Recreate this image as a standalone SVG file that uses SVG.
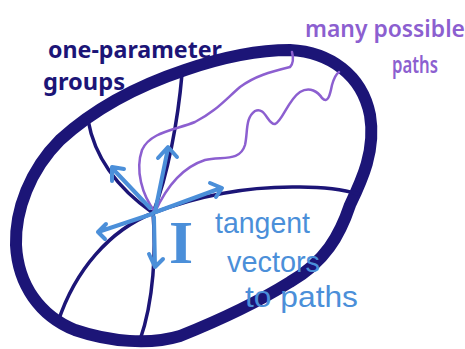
<svg xmlns="http://www.w3.org/2000/svg" width="465" height="349" viewBox="0 0 465 349">
<style>
.navy{fill:none;stroke:#1c1577;stroke-linecap:round;stroke-linejoin:round}
.purple{fill:none;stroke:#8c5fd0;stroke-width:2.5;stroke-linecap:round;stroke-linejoin:round}
.blue{fill:none;stroke:#4b8fd9;stroke-width:4;stroke-linecap:round;stroke-linejoin:round}
.t{font-family:"Noto Sans","DejaVu Sans",sans-serif}
.tn{fill:#1c1577;font-weight:700;font-size:24px}
.tp{fill:#8c5fd0;font-weight:600;font-size:23px}
.tb{fill:#4b8fd9;font-family:"Liberation Sans",Arial,sans-serif;font-size:30px}
</style>
<rect width="465" height="349" fill="#ffffff"/>
<g id="manifold">
<path class="navy" stroke-width="12" d="M 290 50 C 330 52, 362 75, 370 115 C 376 150, 362 180, 350 205 C 340 235, 325 262, 290 282 C 258 302, 215 322, 180 336 C 150 345, 110 342, 75 330 C 40 316, 18 285, 16 245 C 15 210, 30 170, 60 140 C 95 108, 140 85, 185 70 C 220 58, 255 50, 290 50 Z"/>
</g>
<g id="one-parameter-groups">
<path class="navy" stroke-width="3.5" d="M 182 74 C 178 120, 168 175, 153 213"/>
<path class="navy" stroke-width="3.5" d="M 88 120 C 95 160, 120 190, 153 213"/>
<path class="navy" stroke-width="3.5" d="M 153 213 C 156 250, 154 300, 140 340"/>
<path class="navy" stroke-width="3.5" d="M 153 213 C 110 230, 75 270, 58 322"/>
<path class="navy" stroke-width="3.5" d="M 153 213 C 200 195, 250 186, 300 187 C 325 187, 345 190, 358 194"/>
</g>
<g id="paths">
<path class="purple" d="M 292 52 C 294 60, 292 65, 290 67 C 270 72, 255 76, 240 87 C 225 100, 215 112, 195 122 C 175 130, 150 132, 142 150 C 135 170, 142 195, 155 212"/>
<path class="purple" d="M 155 212 C 165 190, 180 168, 205 160 C 222 156, 240 162, 245 145 C 248 132, 245 118, 255 111 C 265 106, 268 125, 275 124 C 282 122, 288 100, 300 92 C 310 86, 318 92, 322 98 C 328 104, 330 95, 332 85 C 334 78, 336 74, 339 72"/>
</g>
<g id="tangent-vectors">
<path class="blue" d="M 155 212 L 168 148 M 158 158 L 168 147 L 177 157"/>
<path class="blue" d="M 150 208 L 113 169 M 124 169 L 112 167 L 112 181"/>
<path class="blue" d="M 153 213 L 221 188 M 210 183 L 222 188 L 216 197"/>
<path class="blue" d="M 152 214 L 98 232 M 106 224 L 98 232 L 105 239"/>
<path class="blue" d="M 154 217 L 155 267 M 149 254 L 155 267 L 163 259"/>
<text x="181" y="263" text-anchor="middle" font-family="'Liberation Serif',serif" font-weight="700" font-size="62" fill="#4b8fd9">I</text>
</g>
<g id="labels">
<text class="t tn" x="48" y="58" textLength="174" lengthAdjust="spacingAndGlyphs">one-parameter</text>
<text class="t tn" x="43" y="90" textLength="82" lengthAdjust="spacingAndGlyphs">groups</text>
<text class="t tp" x="305" y="37" textLength="160" lengthAdjust="spacingAndGlyphs">many possible</text>
<text class="t tp" x="392" y="73" textLength="46" lengthAdjust="spacingAndGlyphs">paths</text>
<text class="tb" x="215" y="233" textLength="95" lengthAdjust="spacingAndGlyphs">tangent</text>
<text class="tb" x="227" y="272" textLength="93" lengthAdjust="spacingAndGlyphs">vectors</text>
<text class="tb" x="245" y="307" textLength="113" lengthAdjust="spacingAndGlyphs">to paths</text>
</g>
</svg>
